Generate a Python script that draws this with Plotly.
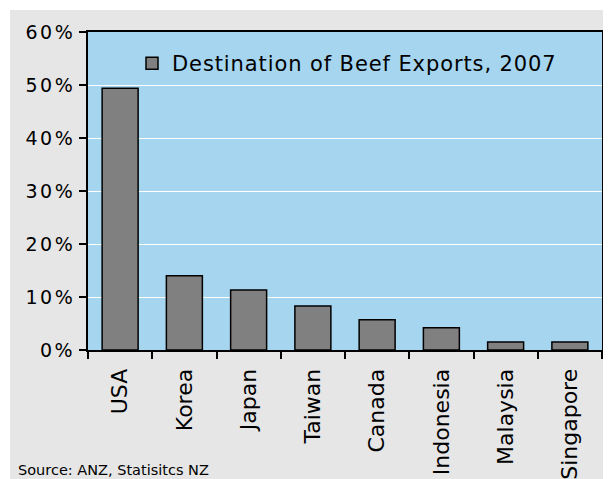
import plotly.graph_objects as go

categories = ["USA", "Korea", "Japan", "Taiwan", "Canada", "Indonesia", "Malaysia", "Singapore"]
values = [49.4, 14.0, 11.3, 8.3, 5.7, 4.2, 1.5, 1.5]
series_name = "Destination of Beef Exports, 2007"
y_ticks = [0, 10, 20, 30, 40, 50, 60]
y_tick_labels = ["0%", "10%", "20%", "30%", "40%", "50%", "60%"]
source_text = "Source: ANZ, Statisitcs NZ"

FONT = "DejaVu Sans"
OFF = 8  # page body margin
W, H = 611 - OFF, 479 - OFF
L, T = 88 - OFF, 32 - OFF
R = 611 - 602
B = 479 - 350
pw, ph = W - L - R, H - T - B

def px_x(x):
    return (x - OFF - L) / pw

def px_y(y):
    return (H - B - (y - OFF)) / ph

fig = go.Figure()
fig.add_trace(go.Bar(
    x=categories, y=values, name=series_name,
    marker=dict(color="#808080", line=dict(color="#000000", width=1.5)),
    showlegend=True,
))

fig.update_layout(
    width=W, height=H,
    margin=dict(l=L, r=R, t=T, b=B, autoexpand=False),
    paper_bgcolor="#e6e6e6",
    plot_bgcolor="#a6d5ef",
    bargap=0.44,
    font=dict(family=FONT, color="#000000"),
    showlegend=True,
    legend=dict(
        x=px_x(132), y=px_y(43), xanchor="left", yanchor="top",
        bgcolor="rgba(0,0,0,0)", borderwidth=0,
        font=dict(family=FONT, size=21, color="#000000"),
    ),
    xaxis=dict(
        type="category", tickson="boundaries", ticks="outside", ticklen=7,
        tickcolor="#000000", tickwidth=1.5,
        showline=True, linecolor="#000000", linewidth=2, mirror=True,
        tickangle=-90, tickfont=dict(family=FONT, size=22, color="#000000"),
        ticklabelstandoff=8,
        showgrid=False, automargin=False,
    ),
    yaxis=dict(
        range=[0, 60], tickvals=y_ticks, ticktext=y_tick_labels,
        ticks="outside", ticklen=7, tickcolor="#000000", tickwidth=1.5,
        showline=True, linecolor="#000000", linewidth=2, mirror=True,
        showgrid=True, gridcolor="#ffffff", gridwidth=1.2,
        tickfont=dict(family=FONT, size=19, color="#000000"),
        zeroline=False, automargin=False,
    ),
    shapes=[
        dict(type="rect", xref="paper", yref="paper", layer="below",
             x0=px_x(0), x1=px_x(620), y0=px_y(10), y1=px_y(0),
             fillcolor="#ffffff", line=dict(width=0)),
        dict(type="rect", xref="paper", yref="paper", layer="below",
             x0=px_x(0), x1=px_x(10), y0=px_y(490), y1=px_y(0),
             fillcolor="#ffffff", line=dict(width=0)),
    ],
    annotations=[dict(
        text=source_text, xref="paper", yref="paper",
        x=px_x(16), y=px_y(470), xanchor="left", yanchor="middle",
        showarrow=False, font=dict(family=FONT, size=14.5, color="#000000"),
    )],
)

post = """
var gd = document.getElementById('{plot_id}');
function applyLS(){
  gd.querySelectorAll('.ytick text').forEach(function(t){ t.style.letterSpacing = '2.5px'; });
  gd.querySelectorAll('.legendtext').forEach(function(t){ t.style.letterSpacing = '0.9px'; });
  gd.querySelectorAll('.legend .scrollbox, .legend').forEach(function(e){ e.removeAttribute('clip-path'); });
}
applyLS();
gd.on('plotly_afterplot', applyLS);
"""

fig.write_html("out.html", post_script=post)
